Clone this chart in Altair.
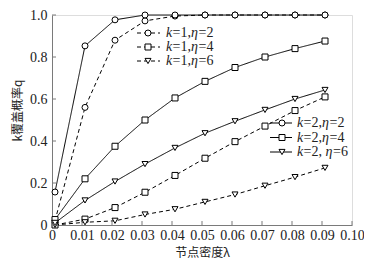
import altair as alt
import pandas as pd

# ---- data ----
x_vals = [0.001, 0.011, 0.021, 0.031, 0.041, 0.051, 0.061, 0.071, 0.081, 0.091]
k2_eta2 = [0.157, 0.853, 0.977, 1.0, 1.0, 1.0, 1.0, 1.0, 1.0, 1.0]
k1_eta2 = [0.02, 0.56, 0.88, 0.972, 0.995, 1.0, 1.0, 1.0, 1.0, 1.0]
k2_eta4 = [0.026, 0.22, 0.375, 0.50, 0.605, 0.684, 0.75, 0.80, 0.84, 0.876]
k2_eta6 = [0.01, 0.117, 0.207, 0.29, 0.367, 0.437, 0.494, 0.548, 0.60, 0.643]
k1_eta4 = [0.0, 0.028, 0.083, 0.156, 0.236, 0.318, 0.397, 0.471, 0.545, 0.61]
k1_eta6 = [0.0, 0.013, 0.02, 0.05, 0.075, 0.11, 0.145, 0.187, 0.228, 0.272]

series_names = ["k=1,η=2", "k=1,η=4", "k=1,η=6", "k=2,η=2", "k=2,η=4", "k=2, η=6"]
series_dash = ["dashed", "dashed", "dashed", "solid", "solid", "solid"]
series_shape = ["circle", "square", "triangle-down", "circle", "square", "triangle-down"]
series_vals = [k1_eta2, k1_eta4, k1_eta6, k2_eta2, k2_eta4, k2_eta6]

x_ticks = [0, 0.01, 0.02, 0.03, 0.04, 0.05, 0.06, 0.07, 0.08, 0.09, 0.10]
y_ticks = [0, 0.2, 0.4, 0.6, 0.8, 1.0]

# legend text pieces
legend_k = ["=1,", "=1,", "=1,", "=2,", "=2,", "=2, "]
legend_eta = ["=2", "=4", "=6", "=2", "=4", "=6"]

# ---- layout (pixels, plot-area coordinates) ----
W, H = 300, 210
leg_line_x1 = [85, 85, 85, 218, 218, 218]
leg_line_x2 = [108, 108, 108, 240, 240, 240]
leg_mark_x = [96, 96, 96, 230, 230, 230]
leg_text_x = [114, 114, 114, 245, 245, 245]
leg_y = [18, 32, 46, 108, 122.5, 137]

rows = []
for name, dash, shape, vals in zip(series_names, series_dash, series_shape, series_vals):
    for xv, yv in zip(x_vals, vals):
        rows.append({"series": name, "dash": dash, "shape": shape, "x": xv, "y": yv})
df = pd.DataFrame(rows)

GRAY = "#7a7a7a"
FONT = "Liberation Serif"
CJK = "Noto Sans CJK SC"

xscale = alt.Scale(domain=[0, 0.1], nice=False, zero=False)
yscale = alt.Scale(domain=[0, 1], nice=False)
dash_scale = alt.Scale(domain=["solid", "dashed"], range=[[1, 0], [4, 3]])
shape_scale = alt.Scale(domain=["circle", "square", "triangle-down"],
                        range=["circle", "square", "triangle-down"])

x_axis = alt.Axis(values=x_ticks, labelExpr="datum.value == 0 ? '0' : format(datum.value, '.2f')",
                  title="节点密度λ", ticks=False, grid=False, domainColor=GRAY,
                  labelFont=FONT, labelFontSize=14, labelColor="#222", labelPadding=3,
                  titleFont=CJK, titleFontSize=12, titleFontWeight="normal", titleColor="#222",
                  titleX=150, titleY=27, titleBaseline="middle", labelFlush=False, labelOverlap=False)
y_axis = alt.Axis(values=y_ticks, labelExpr="datum.value == 0 ? '0' : format(datum.value, '.1f')",
                  title="k覆盖概率q", ticks=False, grid=False, domainColor=GRAY,
                  labelFont=FONT, labelFontSize=14, labelColor="#222", labelPadding=5,
                  titleFont=CJK, titleFontSize=12, titleFontWeight="normal", titleColor="#222",
                  titleX=-35, titleY=95, titleAngle=-90, titleAlign="center", titleBaseline="middle",
                  labelFlush=False, labelOverlap=False)

X = alt.X("x:Q", scale=xscale, axis=x_axis, title="节点密度λ")
Y = alt.Y("y:Q", scale=yscale, axis=y_axis, title="k覆盖概率q")

base = alt.Chart(df)
lines = base.mark_line(color="black", strokeWidth=1).encode(
    x=X, y=Y,
    detail="series:N",
    strokeDash=alt.StrokeDash("dash:N", scale=dash_scale, legend=None),
)
points = base.mark_point(filled=True, fill="white", stroke="black", strokeWidth=1, size=36, opacity=1).encode(
    x=X, y=Y,
    shape=alt.Shape("shape:N", scale=shape_scale, legend=None),
)

# inward ticks
xt = alt.Chart(pd.DataFrame({"x": x_ticks})).mark_rule(color=GRAY, strokeWidth=1).encode(
    x=X, y=alt.value(H), y2=alt.value(H - 4))
yt = alt.Chart(pd.DataFrame({"y": y_ticks})).mark_rule(color=GRAY, strokeWidth=1).encode(
    y=Y, x=alt.value(0), x2=alt.value(4))

# legend
leg = pd.DataFrame({
    "x1": leg_line_x1, "x2": leg_line_x2, "mx": leg_mark_x, "tx": leg_text_x, "ly": leg_y,
    "dash": series_dash, "shape": series_shape, "r1": legend_k, "r2": legend_eta,
})
leg["tx2"] = leg["tx"] + 6.5
leg["tx3"] = leg["tx2"] + [18.5, 18.5, 18.5, 18.5, 18.5, 22.0]
leg["tx4"] = leg["tx3"] + 7.5

lb = alt.Chart(leg)
leg_lines = lb.mark_rule(color="black", strokeWidth=1).encode(
    x=alt.X("x1:Q", scale=None), x2="x2:Q",
    y=alt.Y("ly:Q", scale=None),
    strokeDash=alt.StrokeDash("dash:N", scale=dash_scale, legend=None))
leg_marks = lb.mark_point(filled=True, fill="white", stroke="black", strokeWidth=1, size=36, opacity=1).encode(
    x=alt.X("mx:Q", scale=None), y=alt.Y("ly:Q", scale=None),
    shape=alt.Shape("shape:N", scale=shape_scale, legend=None))
t_k = lb.mark_text(font=FONT, fontSize=14, fontStyle="italic", align="left", baseline="middle", color="#222").encode(
    x=alt.X("tx:Q", scale=None), y=alt.Y("ly:Q", scale=None), text=alt.value("k"))
t_r1 = lb.mark_text(font=FONT, fontSize=14, align="left", baseline="middle", color="#222").encode(
    x=alt.X("tx2:Q", scale=None), y=alt.Y("ly:Q", scale=None), text="r1:N")
t_eta = lb.mark_text(font=FONT, fontSize=14, fontStyle="italic", align="left", baseline="middle", color="#222").encode(
    x=alt.X("tx3:Q", scale=None), y=alt.Y("ly:Q", scale=None), text=alt.value("η"))
t_r2 = lb.mark_text(font=FONT, fontSize=14, align="left", baseline="middle", color="#222").encode(
    x=alt.X("tx4:Q", scale=None), y=alt.Y("ly:Q", scale=None), text="r2:N")

chart = alt.layer(lines, points, xt, yt, leg_lines, leg_marks, t_k, t_r1, t_eta, t_r2).properties(
    width=W, height=H,
    autosize=alt.AutoSizeParams(type="none"),
    padding={"left": 44, "top": 7, "right": 12, "bottom": 33},
).configure_view(stroke=GRAY, strokeWidth=1).configure(background="white")

chart.save("out.html", embed_options={"renderer": "svg", "actions": False})
